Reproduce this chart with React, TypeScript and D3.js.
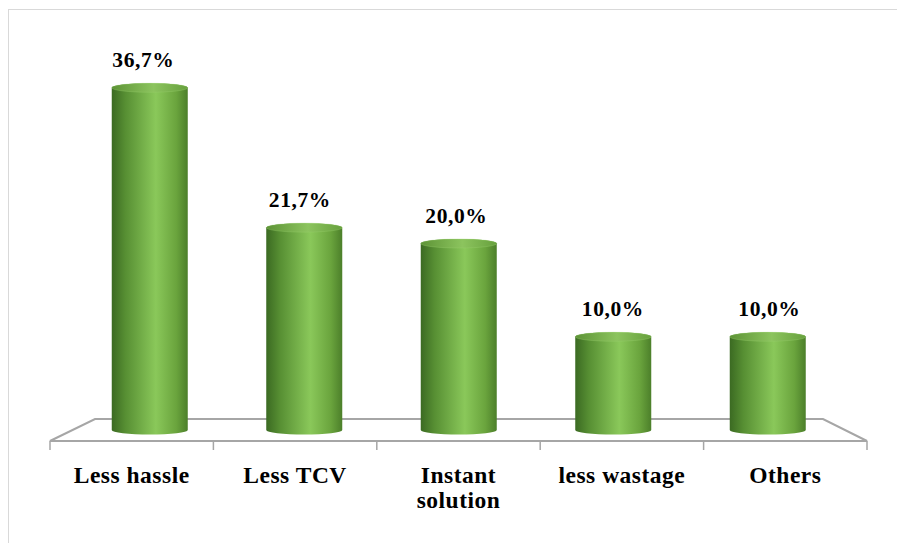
import React from "react";
import * as d3 from "d3";

// Survey shares (percent) per benefit category
const categories = ["Less hassle", "Less TCV", "Instant\nsolution", "less wastage", "Others"];
const shares = [36.7, 21.7, 20.0, 10.0, 10.0];
const valueLabels = ["36,7%", "21,7%", "20,0%", "10,0%", "10,0%"];

const W = 897;
const H = 543;

// 3D floor: front edge, back edge and the mid-depth line the cylinders stand on
const frontY = 441;
const backY = 419;
const baseY = (frontY + backY) / 2;
const front = [50, 867];
const back = [95, 823];
const mid = [(front[0] + back[0]) / 2, (front[1] + back[1]) / 2];

const FONT = "'Liberation Serif', 'Times New Roman', serif";

export default function App() {
  const idx = categories.map((_, i) => String(i));
  const xFront = d3.scaleBand().domain(idx).range(front as [number, number]).padding(0);
  const xMid = d3.scaleBand().domain(idx).range(mid as [number, number]).padding(0);
  const y = d3.scaleLinear().domain([0, 40]).range([baseY, baseY - 373]);

  const rx = 38;
  const ry = 4.5;

  const cylinderPath = (cx: number, top: number) => {
    const l = cx - rx;
    const r = cx + rx;
    return `M${l},${top} L${l},${baseY} A${rx},${ry} 0 0 0 ${r},${baseY} L${r},${top} A${rx},${ry} 0 0 0 ${l},${top} Z`;
  };

  const ticks = d3.range(categories.length + 1).map((i) => front[0] + i * xFront.bandwidth());

  return (
    <svg
      width={W}
      height={H}
      style={{ position: "absolute", left: 0, top: 0, background: "#fff" }}
    >
      <defs>
        <linearGradient id="body" x1="0" x2="1" y1="0" y2="0">
          <stop offset="0" stopColor="#3b6a22" />
          <stop offset="0.18" stopColor="#578f33" />
          <stop offset="0.58" stopColor="#8ac85a" />
          <stop offset="0.85" stopColor="#6aa43d" />
          <stop offset="1" stopColor="#4c7f2a" />
        </linearGradient>
        <linearGradient id="cap" x1="0" x2="1" y1="0" y2="0">
          <stop offset="0" stopColor="#5d9336" />
          <stop offset="0.55" stopColor="#8cc45e" />
          <stop offset="1" stopColor="#67a03d" />
        </linearGradient>
      </defs>

      <rect x={8.5} y={9.5} width={1000} height={1000} fill="#fff" stroke="#d9d9d9" strokeWidth={1} />

      {/* floor outline */}
      <g stroke="#a6a6a6" strokeWidth={2} fill="none">
        <path d={`M${front[0]},${frontY} L${back[0]},${backY} L${back[1]},${backY} L${front[1]},${frontY} Z`} />
        {ticks.map((t, i) => (
          <line key={i} x1={t} x2={t} y1={frontY} y2={frontY + 9} strokeWidth={1.5} />
        ))}
      </g>

      {/* cylinders */}
      {shares.map((v, i) => {
        const cx = (xMid(String(i)) as number) + xMid.bandwidth() / 2;
        const top = y(v);
        return (
          <g key={i}>
            <path d={cylinderPath(cx, top)} fill="url(#body)" />
            <ellipse cx={cx} cy={top} rx={rx} ry={ry} fill="url(#cap)" stroke="#9fd472" strokeWidth={0.6} strokeOpacity={0.5} />
          </g>
        );
      })}

      {/* value labels */}
      {shares.map((v, i) => {
        const cx = (xMid(String(i)) as number) + xMid.bandwidth() / 2 + (i - 3.2) * 2;
        return (
          <text
            key={i}
            x={cx}
            y={y(v) - 21}
            textAnchor="middle"
            fontFamily={FONT}
            fontWeight="bold"
            fontSize={21.5}
            letterSpacing={0.6}
            fill="#000"
          >
            {valueLabels[i]}
          </text>
        );
      })}

      {/* category labels */}
      {categories.map((c, i) => {
        const cx = (xFront(String(i)) as number) + xFront.bandwidth() / 2;
        return (
          <text
            key={i}
            x={cx}
            y={483}
            textAnchor="middle"
            fontFamily={FONT}
            fontWeight="bold"
            fontSize={23.5}
            letterSpacing={0.5}
            fill="#000"
          >
            {c.split("\n").map((line, k) => (
              <tspan key={k} x={cx} dy={k === 0 ? 0 : 25}>
                {line}
              </tspan>
            ))}
          </text>
        );
      })}
    </svg>
  );
}
